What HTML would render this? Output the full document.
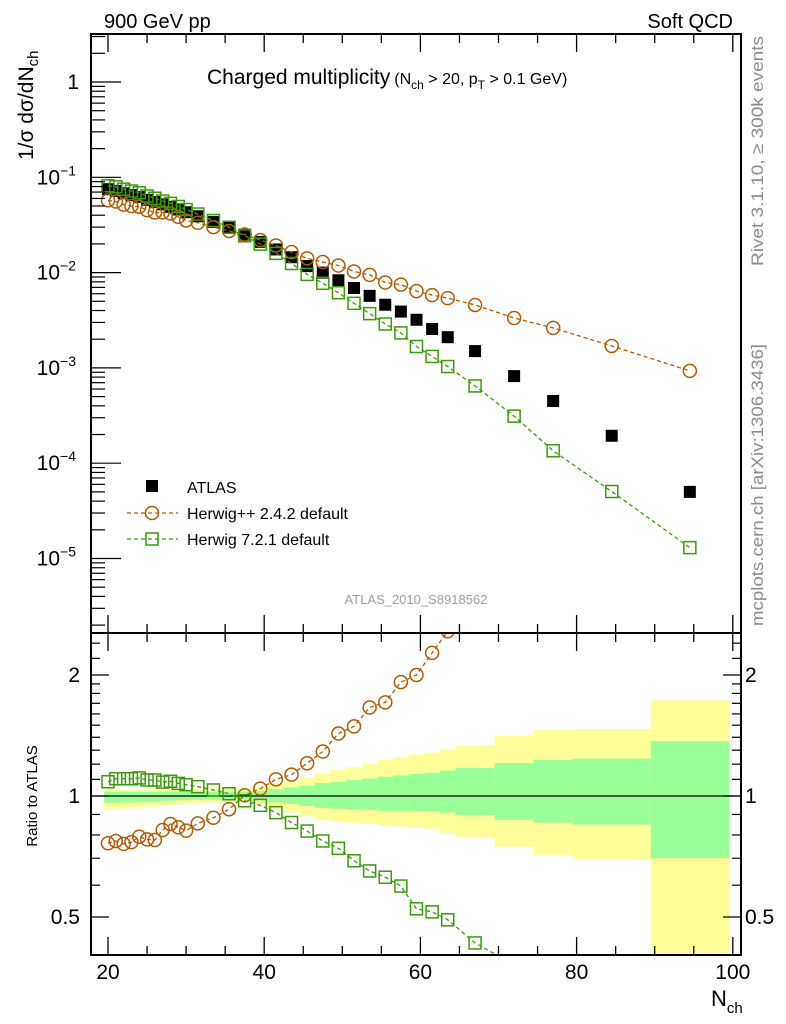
<!DOCTYPE html>
<html><head><meta charset="utf-8">
<style>
html,body{margin:0;padding:0;background:#fff;}
svg{display:block;font-family:"Liberation Sans",Arial,sans-serif;}
</style></head>
<body>
<svg id="chart" width="786" height="1024" viewBox="0 0 786 1024" xmlns="http://www.w3.org/2000/svg">
<g id="bands"></g>
<g id="marks"></g>
<g id="axes"></g>
<text x="104" y="28" font-size="20">900 GeV pp</text>
<text x="733" y="28" font-size="20" text-anchor="end">Soft QCD</text>
<text x="207" y="84" font-size="21">Charged multiplicity<tspan font-size="16" dx="4">(N</tspan><tspan font-size="12" dy="5">ch</tspan><tspan font-size="16" dy="-5"> &gt; 20, p</tspan><tspan font-size="12" dy="5">T</tspan><tspan font-size="16" dy="-5"> &gt; 0.1 GeV)</tspan></text>
<text transform="translate(33,160) rotate(-90)" font-size="21">1/σ dσ/dN<tspan font-size="15" dy="5">ch</tspan></text>
<text transform="translate(37,796) rotate(-90)" font-size="15" text-anchor="middle">Ratio to ATLAS</text>
<text x="711" y="1006" font-size="22">N<tspan font-size="15" dy="7">ch</tspan></text>
<text transform="translate(763,266) rotate(-90)" font-size="17" fill="#8c8c8c" textLength="230" lengthAdjust="spacingAndGlyphs">Rivet 3.1.10, ≥ 300k events</text>
<text transform="translate(763,626) rotate(-90)" font-size="17" fill="#8c8c8c" textLength="282" lengthAdjust="spacingAndGlyphs">mcplots.cern.ch [arXiv:1306.3436]</text>
<text x="416" y="604" font-size="13" fill="#a0a0a0" text-anchor="middle">ATLAS_2010_S8918562</text>
<g id="legend">
<rect x="146" y="480" width="12" height="12" fill="#000"/>
<text x="187" y="493" font-size="16">ATLAS</text>
<line x1="127" y1="513" x2="178" y2="513" stroke="#b35900" stroke-width="1.3" stroke-dasharray="4,3"/>
<circle cx="152" cy="513" r="6.5" fill="none" stroke="#b35900" stroke-width="1.5"/>
<text x="187" y="519" font-size="16">Herwig++ 2.4.2 default</text>
<line x1="127" y1="539" x2="178" y2="539" stroke="#3a9a0a" stroke-width="1.3" stroke-dasharray="4,3"/>
<rect x="146" y="533" width="12" height="12" fill="none" stroke="#3a9a0a" stroke-width="1.5"/>
<text x="187" y="545" font-size="16">Herwig 7.2.1 default</text>
</g>
</svg>
<script>
const nch = [20,21,22,23,24,25,26,27,28,29,30,31.5,33.5,35.5,37.5,39.5,41.5,43.5,45.5,47.5,49.5,51.5,53.5,55.5,57.5,59.5,61.5,63.5,67,72,77,84.5,94.5];
const binLo = [19.5,20.5,21.5,22.5,23.5,24.5,25.5,26.5,27.5,28.5,29.5,30.5,32.5,34.5,36.5,38.5,40.5,42.5,44.5,46.5,48.5,50.5,52.5,54.5,56.5,58.5,60.5,62.5,64.5,69.5,74.5,79.5,89.5];
const binHi = [20.5,21.5,22.5,23.5,24.5,25.5,26.5,27.5,28.5,29.5,30.5,32.5,34.5,36.5,38.5,40.5,42.5,44.5,46.5,48.5,50.5,52.5,54.5,56.5,58.5,60.5,62.5,64.5,69.5,74.5,79.5,89.5,99.5];
const atlas = [0.075,0.072,0.068,0.065,0.062,0.058,0.055,0.052,0.049,0.046,0.043,0.039,0.034,0.0295,0.025,0.021,0.0175,0.0145,0.0117,0.0100,0.0083,0.0069,0.0057,0.0046,0.0039,0.0032,0.00256,0.0021,0.0015,0.00082,0.00045,0.000194,0.00005];
const herwigppRatio = [0.763,0.773,0.760,0.768,0.792,0.780,0.777,0.823,0.852,0.836,0.820,0.855,0.883,0.927,1.004,1.043,1.10,1.13,1.206,1.29,1.43,1.49,1.66,1.71,1.92,2.00,2.27,2.57,3.05,4.07,5.84,8.76,18.6];
const herwig7Ratio = [1.085,1.104,1.104,1.104,1.109,1.096,1.096,1.083,1.088,1.075,1.067,1.055,1.035,1.013,0.973,0.948,0.909,0.859,0.818,0.773,0.741,0.690,0.651,0.628,0.597,0.524,0.515,0.492,0.431,0.38,0.30,0.26,0.26];
const bandYellowHi = [1.035,1.035,1.035,1.035,1.035,1.036,1.036,1.037,1.038,1.039,1.040,1.041,1.042,1.043,1.044,1.05,1.07,1.09,1.11,1.14,1.16,1.18,1.20,1.23,1.25,1.27,1.282,1.307,1.337,1.41,1.46,1.468,1.73];
const bandGreenHi = [1.025,1.025,1.025,1.025,1.025,1.025,1.025,1.025,1.025,1.025,1.025,1.025,1.025,1.025,1.025,1.03,1.04,1.05,1.06,1.077,1.085,1.095,1.105,1.117,1.125,1.135,1.143,1.156,1.174,1.208,1.229,1.239,1.37];
const bandGreenLo = [0.962,0.962,0.963,0.964,0.965,0.967,0.969,0.971,0.973,0.975,0.977,0.978,0.979,0.980,0.981,0.975,0.965,0.955,0.945,0.934,0.93,0.927,0.924,0.919,0.918,0.917,0.916,0.909,0.897,0.873,0.859,0.849,0.701];
const bandYellowLo = [0.927,0.928,0.930,0.932,0.935,0.938,0.941,0.945,0.949,0.953,0.957,0.960,0.963,0.966,0.968,0.955,0.930,0.910,0.89,0.872,0.865,0.858,0.852,0.847,0.84,0.835,0.829,0.81,0.791,0.748,0.714,0.696,0.3];
const xTicks = [20,40,60,80,100];
const yTicksMain = [0,-1,-2,-3,-4,-5];
const ratioTickValues = [0.5,1,2];
const ratioTickLabels = ["0.5","1","2"];

const NS="http://www.w3.org/2000/svg";
const L=91,R=741,T=34,MB=633,B=955;
const xs = v => 108 + (v-20)*7.81;
const ym = v => 82 - 95.3*Math.log10(v);
const yr = v => 796 - 402*Math.log10(v);
function mk(tag,attrs,parent){const e=document.createElementNS(NS,tag);for(const k in attrs)e.setAttribute(k,attrs[k]);parent.appendChild(e);return e;}
const bands=document.getElementById('bands'),marks=document.getElementById('marks'),axes=document.getElementById('axes');
const clipDefs=mk('defs',{},document.getElementById('chart'));
const cm=mk('clipPath',{id:'cmain'},clipDefs);mk('rect',{x:L,y:T,width:R-L,height:MB-T},cm);
const cr=mk('clipPath',{id:'cratio'},clipDefs);mk('rect',{x:L,y:MB,width:R-L,height:B-MB},cr);
bands.setAttribute('clip-path','url(#cratio)');
for(let i=0;i<nch.length;i++){
  const x1=xs(binLo[i]),w=xs(binHi[i])-x1;
  let r=mk('rect',{x:x1,y:yr(bandYellowHi[i]),width:w+0.3,height:yr(bandYellowLo[i])-yr(bandYellowHi[i]),fill:'#ffff99'},bands);
  
  
  r=mk('rect',{x:x1,y:yr(bandGreenHi[i]),width:w+0.3,height:yr(bandGreenLo[i])-yr(bandGreenHi[i]),fill:'#99ff99'},bands);
  
  
}
let ln=mk('line',{x1:L,y1:yr(1),x2:R,y2:yr(1),stroke:'#000','stroke-width':1.2},marks);


const gm=mk('g',{'clip-path':'url(#cmain)'},marks);
const gr=mk('g',{'clip-path':'url(#cratio)'},marks);
function series(ratio,color,shape,name){
  const ptsM=nch.map((n,i)=>xs(n)+','+ym(atlas[i]*ratio[i])).join(' ');
  const ptsR=nch.map((n,i)=>xs(n)+','+yr(ratio[i])).join(' ');
  let p=mk('polyline',{points:ptsM,fill:'none',stroke:color,'stroke-width':1.3,'stroke-dasharray':'4,3'},gm);
  
  
  p=mk('polyline',{points:ptsR,fill:'none',stroke:color,'stroke-width':1.3,'stroke-dasharray':'4,3'},gr);
  
  
  nch.forEach((n,i)=>{
    [[gm,ym(atlas[i]*ratio[i])],[gr,yr(ratio[i])]].forEach(([g,y])=>{
      let e;
      if(shape==='c') e=mk('circle',{cx:xs(n),cy:y,r:6.5,fill:'none',stroke:color,'stroke-width':1.5},g);
      else e=mk('rect',{x:xs(n)-6,y:y-6,width:12,height:12,fill:'none',stroke:color,'stroke-width':1.5},g);
      
      
    });
  });
}
nch.forEach((n,i)=>{
  const e=mk('rect',{x:xs(n)-6,y:ym(atlas[i])-6,width:12,height:12,fill:'#000'},gm);
  
  
});
series(herwigppRatio,'#b35900','c','herwigpp');
series(herwig7Ratio,'#3a9a0a','s','herwig7');
let f=mk('rect',{x:L,y:T,width:R-L,height:MB-T,fill:'none',stroke:'#000','stroke-width':2},axes);


f=mk('rect',{x:L,y:MB,width:R-L,height:B-MB,fill:'none',stroke:'#000','stroke-width':2},axes);


for(let v=20;v<=100;v+=5){
  const maj=v%20===0, x=xs(v), len=maj?18:9;
  [[T,1],[MB,-1],[MB,1],[B,-1]].forEach(([y0,d])=>mk('line',{x1:x,y1:y0,x2:x,y2:y0+d*len,stroke:'#000','stroke-width':1.3},axes));
}
xTicks.forEach(v=>{
  const t=mk('text',{x:xs(v),y:979,'font-size':21,'text-anchor':'middle'},axes);t.textContent=v;
  
  
});
for(let e=-6;e<=0;e++){
  for(let m=1;m<=9;m++){
    const v=m*Math.pow(10,e), y=ym(v);
    if(y<T||y>MB) continue;
    const len=m===1?30:14;
    mk('line',{x1:L,y1:y,x2:L+len,y2:y,stroke:'#000','stroke-width':1.2},axes);
  }
}
yTicksMain.forEach(e=>{
  const y=ym(Math.pow(10,e));
  const t=mk('text',{x:e===0?79:76,y:y+7,'font-size':21,'text-anchor':'end'},axes);
  if(e===0) t.textContent='1';
  else{t.textContent='10';const s=mk('tspan',{dy:-9,'font-size':14},t);s.textContent='−'+(-e);}
  
  
});
[0.4,0.5,0.6,0.7,0.8,0.9,1,1.1,1.2,1.3,1.4,1.5,1.6,1.7,1.8,1.9,2,2.2,2.4].forEach(v=>{
  const y=yr(v); if(y<MB||y>B) return;
  const maj=(v===0.5||v===1||v===2), len=maj?18:9;
  mk('line',{x1:L,y1:y,x2:L+len,y2:y,stroke:'#000','stroke-width':1.2},axes);
  mk('line',{x1:R,y1:y,x2:R-len,y2:y,stroke:'#000','stroke-width':1.2},axes);
});
ratioTickValues.forEach((v,i)=>{
  const y=yr(v)+7;
  let t=mk('text',{x:80,y:y,'font-size':21,'text-anchor':'end'},axes);t.textContent=ratioTickLabels[i];
  
  
  t=mk('text',{x:745,y:y,'font-size':21},axes);t.textContent=ratioTickLabels[i];
  
  
});
</script>
</body></html>
